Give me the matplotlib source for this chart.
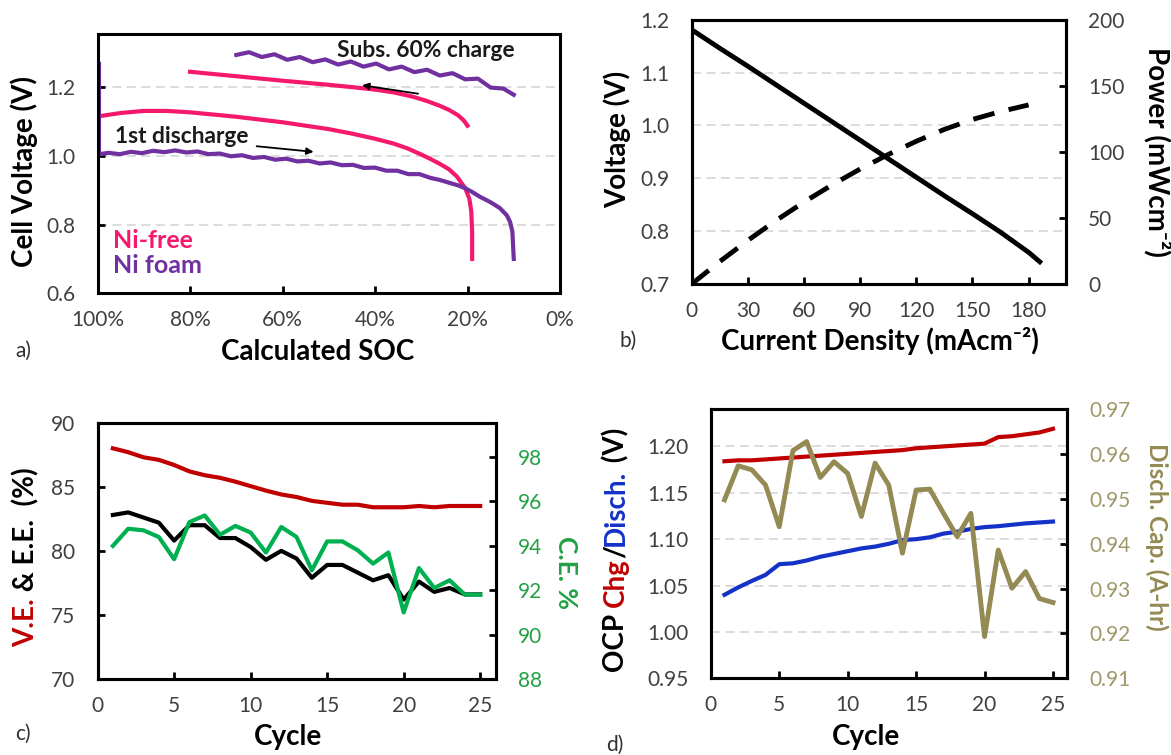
import matplotlib
matplotlib.use('Agg')
from matplotlib import pyplot as plt

plt.rcParams['font.family'] = ['Lato', 'DejaVu Sans']

W, H = 1171, 755  # output size in pixels

# ---- panel a: discharge / charge curves vs SOC ----
soc_nifree_dis = [100, 95, 90, 85, 80, 70, 60, 50, 45, 40, 36, 33, 30, 28, 26, 24, 22.3, 20.5, 19.6, 19.2, 19.0,
                  19.0]
v_nifree_dis = [1.115, 1.125, 1.131, 1.131, 1.127, 1.114, 1.098, 1.078, 1.065, 1.05, 1.036, 1.022, 1.004, 0.991,
                0.977, 0.961, 0.94, 0.906, 0.875, 0.84, 0.78, 0.70]
soc_nifree_chg = [80, 70, 60, 50, 44, 40, 36, 32, 29, 26, 24, 22, 20.8, 20]
v_nifree_chg = [1.245, 1.232, 1.219, 1.207, 1.199, 1.193, 1.185, 1.173, 1.161, 1.146, 1.134, 1.118, 1.103, 1.088]

soc_nifoam_dis = [99.7, 99.7, 97.6, 95.2, 92.8, 90.4, 88, 85.6, 83.2, 80.8, 78.4, 76, 73.6, 71.2, 68.8, 66.4, 64,
                  61.6, 59.2, 56.8, 54.4, 52, 49.6, 47.2, 44.8, 42.4, 40, 37.6, 35.2, 32.8, 30.4, 28, 26, 24, 22,
                  20.5, 19, 17.3, 15, 13, 11.5, 10.8, 10.3, 10.0]
v_nifoam_dis = [1.268, 1.005, 1.009, 1.005, 1.012, 1.008, 1.015, 1.011, 1.016, 1.010, 1.013, 1.005, 1.007, 0.999,
                1.002, 0.994, 0.997, 0.989, 0.992, 0.984, 0.986, 0.978, 0.981, 0.973, 0.974, 0.965, 0.966, 0.957,
                0.957, 0.947, 0.947, 0.936, 0.930, 0.922, 0.914, 0.906, 0.895, 0.881, 0.865, 0.848, 0.827, 0.808,
                0.780, 0.700]
soc_nifoam_chg = [70, 67.25, 64.5, 61.75, 59, 56.25, 53.5, 50.75, 48, 45.25, 42.5, 39.75, 37, 34.25, 31.5, 28.75,
                  26, 23.25, 20.5, 17.75, 15, 12.25, 10]
v_nifoam_chg = [1.294, 1.302, 1.288, 1.296, 1.280, 1.288, 1.273, 1.281, 1.266, 1.275, 1.260, 1.269, 1.252, 1.260,
                1.244, 1.251, 1.234, 1.241, 1.223, 1.225, 1.199, 1.196, 1.178]

# ---- panel b: polarisation curve ----
current = [0, 15, 30, 45, 60, 75, 90, 105, 120, 135, 150, 165, 180, 186]
voltage = [1.181, 1.146, 1.112, 1.077, 1.042, 1.007, 0.972, 0.937, 0.902, 0.867, 0.833, 0.798, 0.760, 0.742]
current_p = [0, 15, 30, 45, 60, 75, 90, 105, 120, 135, 150, 165, 180]
power = [0, 17, 33, 48, 62, 75, 87, 98, 108, 117, 124.5, 130.5, 135.5]

# ---- panel c: efficiencies per cycle ----
cycles = list(range(1, 26))
ve = [88.0, 87.7, 87.3, 87.1, 86.7, 86.2, 85.9, 85.7, 85.4, 85.05, 84.7, 84.4, 84.2, 83.9, 83.75, 83.6, 83.6,
      83.4, 83.4, 83.4, 83.5, 83.4, 83.5, 83.5, 83.5]
ee = [82.8, 83.0, 82.6, 82.2, 80.8, 82.0, 82.0, 81.0, 81.0, 80.3, 79.3, 80.0, 79.4, 77.9, 78.9, 78.9, 78.3,
      77.7, 78.1, 76.2, 77.6, 76.8, 77.1, 76.6, 76.6]
ce = [94.0, 94.77, 94.7, 94.4, 93.4, 95.07, 95.37, 94.5, 94.9, 94.6, 93.7, 94.85, 94.4, 92.9, 94.2, 94.2, 93.8,
      93.2, 93.7, 91.0, 93.0, 92.1, 92.45, 91.8, 91.8]

# ---- panel d: OCP and discharge capacity per cycle ----
ocp_chg = [1.184, 1.185, 1.185, 1.186, 1.187, 1.188, 1.189, 1.190, 1.191, 1.192, 1.193, 1.194, 1.195, 1.196,
           1.198, 1.199, 1.200, 1.201, 1.202, 1.203, 1.210, 1.211, 1.213, 1.215, 1.219]
ocp_dis = [1.040, 1.048, 1.055, 1.0615, 1.073, 1.074, 1.077, 1.081, 1.084, 1.087, 1.090, 1.092, 1.095, 1.099,
           1.100, 1.102, 1.106, 1.108, 1.111, 1.113, 1.114, 1.1155, 1.117, 1.118, 1.119]
disch_cap = [0.9498, 0.9574, 0.9565, 0.9531, 0.9438, 0.9608, 0.9628, 0.9548, 0.9583, 0.9557, 0.9461, 0.9580,
             0.9531, 0.9379, 0.9520, 0.9522, 0.9468, 0.9416, 0.9468, 0.9193, 0.9386, 0.9301, 0.9338, 0.9278,
             0.9269]

PINK = '#f5196e'
PURPLE = '#7030a0'
DARKRED = '#c00000'
GREEN = '#00b050'
GREEN_TXT = '#23a045'
BLUE = '#1432c8'
OLIVE = '#948a54'
OLIVE_TXT = '#9e9868'
TICK = '#404040'
GRID = '#d9d9d9'
LABEL = 20  # bold axis label size


def px_rect(x0, y0, x1, y1):  # pixel box (top-left origin) -> figure fraction rect
    return [x0 / W, 1 - y1 / H, (x1 - x0) / W, (y1 - y0) / H]


def fx(x):
    return x / W


def fy(y):
    return 1 - y / H


def style(ax, grid=False):
    for s in ax.spines.values():
        s.set_linewidth(2.2)
        s.set_color('black')
    ax.tick_params(direction='in', length=5, width=2, labelsize=15, labelcolor=TICK)
    ax.tick_params(axis='y', pad=16)
    ax.tick_params(axis='x', pad=12)
    if grid:
        ax.yaxis.grid(True, color=GRID, linestyle=(0, (5, 3)), lw=1.3)
        ax.set_axisbelow(True)


def stacked_label(fig, x, y, pieces, size=LABEL):  # multi-colour vertical label, centered at pixel (x, y)
    renderer = fig.canvas.get_renderer()
    texts, heights = [], []
    for s, c in pieces:
        t = fig.text(0, 0, s, rotation=90, color=c, fontsize=size, fontweight='bold', ha='center', va='bottom')
        texts.append(t)
        heights.append(t.get_window_extent(renderer).height)
    ypos = (H - y) - sum(heights) / 2
    for t, h in zip(texts, heights):
        t.set_position((fx(x), ypos / H))
        ypos += h


fig = plt.figure(figsize=(W / 100, H / 100), dpi=100)

# ---------- a) ----------
axa = fig.add_axes(px_rect(97.6, 34, 560, 293.3))
style(axa, grid=True)
axa.plot(soc_nifree_dis, v_nifree_dis, color=PINK, lw=3)
axa.plot(soc_nifree_chg, v_nifree_chg, color=PINK, lw=3)
axa.plot(soc_nifoam_dis, v_nifoam_dis, color=PURPLE, lw=3)
axa.plot(soc_nifoam_chg, v_nifoam_chg, color=PURPLE, lw=3)
axa.set_xlim(100, 0)
axa.set_ylim(0.6, 1.355)
axa.set_xticks([100, 80, 60, 40, 20, 0])
axa.set_xticklabels([f'{v}%' for v in [100, 80, 60, 40, 20, 0]])
axa.set_yticks([0.6, 0.8, 1.0, 1.2])
axa.set_yticklabels(['0.6', '0.8', '1.0', '1.2'])
axa.text(48.3, 1.289, 'Subs. 60% charge', fontsize=16.4, fontweight='bold', color='#1a1a1a', va='baseline')
axa.text(96.25, 1.037, '1st discharge', fontsize=16.4, fontweight='bold', color='#1a1a1a', va='baseline')
axa.annotate('', xy=(52.7, 1.011), xytext=(66.2, 1.029),
             arrowprops=dict(arrowstyle='-|>', color='black', lw=1.3, mutation_scale=10))
axa.annotate('', xy=(43.4, 1.207), xytext=(30.1, 1.180),
             arrowprops=dict(arrowstyle='-|>', color='black', lw=1.3, mutation_scale=10))
axa.text(96.6, 0.731, 'Ni-free', fontsize=18, fontweight='bold', color=PINK, va='baseline')
axa.text(96.6, 0.658, 'Ni foam', fontsize=18, fontweight='bold', color=PURPLE, va='baseline')
fig.text(fx(24.6), fy(171.7), 'Cell Voltage (V)', rotation=90, fontsize=LABEL, fontweight='bold',
         ha='center', va='center')
fig.text(fx(317.6), fy(360), 'Calculated SOC', fontsize=LABEL, fontweight='bold', ha='center', va='baseline')
fig.text(fx(15), fy(356.7), 'a)', fontsize=15, color='#303030', va='baseline')

# ---------- b) ----------
axb = fig.add_axes(px_rect(691.7, 19.7, 1066, 284))
style(axb, grid=True)
axb.tick_params(axis='y', length=0)
axb.plot(current, voltage, color='black', lw=3.5)
axb.set_xlim(0, 200)
axb.set_ylim(0.7, 1.2)
axb.set_xticks([0, 30, 60, 90, 120, 150, 180])
axb.set_yticks([0.7, 0.8, 0.9, 1.0, 1.1, 1.2])
axb.set_yticklabels(['0.7', '0.8', '0.9', '1.0', '1.1', '1.2'])
axb2 = axb.twinx()
style(axb2)
axb2.tick_params(axis='y', pad=16)
axb2.plot(current_p, power, color='black', lw=3.5, dashes=(4.5, 3))
axb2.set_ylim(0, 200)
axb2.set_yticks([0, 50, 100, 150, 200])
fig.text(fx(617), fy(139), 'Voltage (V)', rotation=90, fontsize=LABEL, fontweight='bold', ha='center',
         va='center')
fig.text(fx(1157), fy(152), 'Power (mWcm⁻²)', rotation=270, fontsize=LABEL, fontweight='bold',
         ha='center', va='center')
fig.text(fx(879.7), fy(350), 'Current Density (mAcm⁻²)', fontsize=LABEL, fontweight='bold',
         ha='center', va='baseline')
fig.text(fx(619.7), fy(346.7), 'b)', fontsize=15, color='#303030', va='baseline')

# ---------- c) ----------
axc = fig.add_axes(px_rect(97.6, 422.7, 495.5, 679))
style(axc)
axc.plot(cycles, ve, color=DARKRED, lw=3)
axc.plot(cycles, ee, color='black', lw=3)
axc.set_xlim(0, 26)
axc.set_ylim(70, 90)
axc.set_xticks([0, 5, 10, 15, 20, 25])
axc.set_yticks([70, 75, 80, 85, 90])
axc2 = axc.twinx()
style(axc2)
axc2.tick_params(axis='y', labelcolor=GREEN_TXT, pad=16)
axc2.plot(cycles, ce, color=GREEN, lw=3)
axc2.set_ylim(88, 99.55)
axc2.set_yticks([88, 90, 92, 94, 96, 98])
stacked_label(fig, 26, 557, [('V.E.', DARKRED), (' & E.E.  (%)', 'black')])
fig.text(fx(566), fy(572), 'C.E. %', rotation=270, fontsize=19, fontweight='bold', color=GREEN_TXT,
         ha='center', va='center')
fig.text(fx(288.4), fy(745), 'Cycle', fontsize=LABEL, fontweight='bold', ha='center', va='baseline')
fig.text(fx(15), fy(740), 'c)', fontsize=15, color='#303030', va='baseline')

# ---------- d) ----------
axd = fig.add_axes(px_rect(710.8, 409.3, 1066.7, 678.3))
style(axd, grid=True)
axd.tick_params(axis='y', length=0)
axd.plot(cycles, ocp_chg, color=DARKRED, lw=3)
axd.plot(cycles, ocp_dis, color=BLUE, lw=3)
axd.set_xlim(0, 26)
axd.set_ylim(0.95, 1.24)
axd.set_xticks([0, 5, 10, 15, 20, 25])
axd.set_yticks([0.95, 1.00, 1.05, 1.10, 1.15, 1.20])
axd.set_yticklabels(['0.95', '1.00', '1.05', '1.10', '1.15', '1.20'])
axd2 = axd.twinx()
style(axd2)
axd2.tick_params(axis='y', labelcolor=OLIVE_TXT, pad=16)
axd2.plot(cycles, disch_cap, color=OLIVE, lw=3.5)
axd2.set_ylim(0.91, 0.97)
axd2.set_yticks([0.91, 0.92, 0.93, 0.94, 0.95, 0.96, 0.97])
axd2.set_yticklabels(['0.91', '0.92', '0.93', '0.94', '0.95', '0.96', '0.97'])
stacked_label(fig, 616, 550, [('OCP ', 'black'), ('Chg', DARKRED), ('/', 'black'), ('Disch.', BLUE),
                              (' (V)', 'black')])
fig.text(fx(1157), fy(537), 'Disch. Cap. (A-hr)', rotation=270, fontsize=17.5, fontweight='bold', color=OLIVE,
         ha='center', va='center')
fig.text(fx(865.6), fy(745), 'Cycle', fontsize=LABEL, fontweight='bold', ha='center', va='baseline')
fig.text(fx(606.5), fy(751), 'd)', fontsize=15, color='#303030', va='baseline')

fig.savefig('out.png', dpi=100)
